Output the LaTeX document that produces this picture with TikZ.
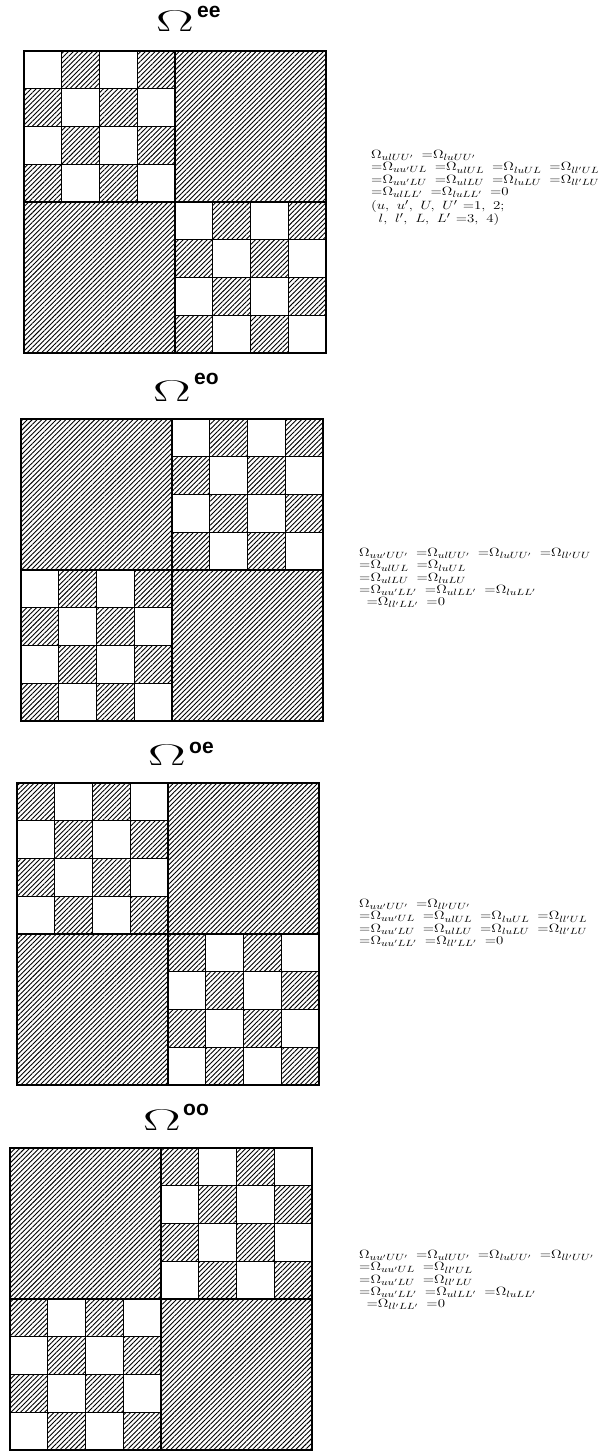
\documentclass[tikz,border=0pt]{standalone}
\usepackage{fontspec}
\usepackage{graphicx}
\usetikzlibrary{patterns.meta}
\newfontfamily\supfont{Liberation Sans}
\newcommand{\Q}[1]{\Omega_{#1}}
\newcommand{\Eq}{\mathord{=}}
\newcommand{\G}{\hspace{6.3pt}}
\newcommand{\eqblock}[1]{\scalebox{1.24}[1]{\begin{tabular}{@{}l@{}}#1\end{tabular}}}
\tikzset{
  hatch/.style={pattern={Lines[angle=45,distance=3.4pt,line width=0.9pt]}},
  cellline/.style={line width=1.3pt},
  midline/.style={line width=1.8pt},
  frameline/.style={line width=2.4pt},
  omega/.style={inner sep=0pt,font=\fontsize{30}{30}\selectfont},
  supx/.style={inner sep=0pt,anchor=west,font=\supfont\bfseries\fontsize{21}{21}\selectfont},
  eqs/.style={inner sep=0pt,anchor=north west,font=\fontsize{13}{12.2}\selectfont}
}
\newcommand{\blockhatch}[3]{\fill[hatch] ({#1},{#2}) rectangle ++({#3},{#3});}
\newcommand{\blockcheck}[4]{%
  \foreach \r in {0,1,2,3}{\foreach \c in {0,1,2,3}{%
    \pgfmathtruncatemacro{\hh}{mod(\r+\c+#4,2)}%
    \ifnum\hh=1 \fill[hatch] ({#1+\c*#3/4},{#2+\r*#3/4}) rectangle ++({#3/4},{#3/4});\fi}}%
  \foreach \k in {1,2,3}{%
    \draw[cellline] ({#1+\k*#3/4},{#2}) -- ++(0,{#3});
    \draw[cellline] ({#1},{#2+\k*#3/4}) -- ++({#3},0);}%
}
\newcommand{\panel}[5]{%
  \pgfmathsetmacro{\hs}{#3/2}%
  \ifnum#4=1
    \blockcheck{#1}{#2}{\hs}{#5}
    \blockhatch{#1+\hs}{#2}{\hs}
    \blockhatch{#1}{#2+\hs}{\hs}
    \blockcheck{#1+\hs}{#2+\hs}{\hs}{#5}
  \else
    \blockhatch{#1}{#2}{\hs}
    \blockcheck{#1+\hs}{#2}{\hs}{#5}
    \blockcheck{#1}{#2+\hs}{\hs}{#5}
    \blockhatch{#1+\hs}{#2+\hs}{\hs}
  \fi
  \draw[midline] ({#1+\hs},{#2}) -- ++(0,{#3});
  \draw[midline] ({#1},{#2+\hs}) -- ++({#3},0);
  \draw[frameline] ({#1},{#2}) rectangle ++({#3},{#3});
}
\begin{document}
\begin{tikzpicture}[x=1pt,y=-1pt]
\useasboundingbox[fill=white] (0,0) rectangle (602,1452);

% Panel 1: Omega^ee
\node[omega] (om1) at (175,21) {\scalebox{1.9}[1]{Ω}};
\node[supx] (s1) at (197,12) {ee};
\panel{24}{51}{302}{1}{0}
\node[eqs] (e1) at (371,150) {\eqblock{%
$\Q{ulUU'}\G\Eq\Q{luUU'}$\\
$\Eq\Q{uu'UL}\G\Eq\Q{ulUL}\G\Eq\Q{luUL}\G\Eq\Q{ll'UL}$\\
$\Eq\Q{uu'LU}\G\Eq\Q{ulLU}\G\Eq\Q{luLU}\G\Eq\Q{ll'LU}$\\
$\Eq\Q{ulLL'}\G\Eq\Q{luLL'}\G\Eq0$\\[1.5pt]
$(u,\ u',\ U,\ U'\ \Eq1,\ 2;$\\
\hspace{6pt}$l,\ l',\ L,\ L'\ \Eq3,\ 4)$}};

% Panel 2: Omega^eo
\node[omega] (om2) at (172,391) {\scalebox{1.9}[1]{Ω}};
\node[supx] (s2) at (194,379) {eo};
\panel{21}{419}{302}{2}{0}
\node[eqs] (e2) at (359,548) {\eqblock{%
$\Q{uu'UU'}\G\Eq\Q{ulUU'}\G\Eq\Q{luUU'}\G\Eq\Q{ll'UU}$\\
$\Eq\Q{ulUL}\G\Eq\Q{luUL}$\\
$\Eq\Q{ulLU}\G\Eq\Q{luLU}$\\
$\Eq\Q{uu'LL'}\G\Eq\Q{ulLL'}\G\Eq\Q{luLL'}$\\
\hspace{6pt}$\Eq\Q{ll'LL'}\G\Eq0$}};

% Panel 3: Omega^oe
\node[omega] (om3) at (167,755) {\scalebox{1.9}[1]{Ω}};
\node[supx] (s3) at (189,748) {oe};
\panel{17}{783}{302}{1}{1}
\node[eqs] (e3) at (359,899) {\eqblock{%
$\Q{uu'UU'}\G\Eq\Q{ll'UU'}$\\
$\Eq\Q{uu'UL}\G\Eq\Q{ulUL}\G\Eq\Q{luUL}\G\Eq\Q{ll'UL}$\\
$\Eq\Q{uu'LU}\G\Eq\Q{ulLU}\G\Eq\Q{luLU}\G\Eq\Q{ll'LU}$\\
$\Eq\Q{uu'LL'}\G\Eq\Q{ll'LL'}\G\Eq0$}};

% Panel 4: Omega^oo
\node[omega] (om4) at (162,1120) {\scalebox{1.9}[1]{Ω}};
\node[supx] (s4) at (183,1110) {oo};
\panel{10}{1148}{302}{2}{1}
\node[eqs] (e4) at (359,1250) {\eqblock{%
$\Q{uu'UU'}\G\Eq\Q{ulUU'}\G\Eq\Q{luUU'}\G\Eq\Q{ll'UU'}$\\
$\Eq\Q{uu'UL}\G\Eq\Q{ll'UL}$\\
$\Eq\Q{uu'LU}\G\Eq\Q{ll'LU}$\\
$\Eq\Q{uu'LL'}\G\Eq\Q{ulLL'}\G\Eq\Q{luLL'}$\\
\hspace{6pt}$\Eq\Q{ll'LL'}\G\Eq0$}};
\end{tikzpicture}
\end{document}
